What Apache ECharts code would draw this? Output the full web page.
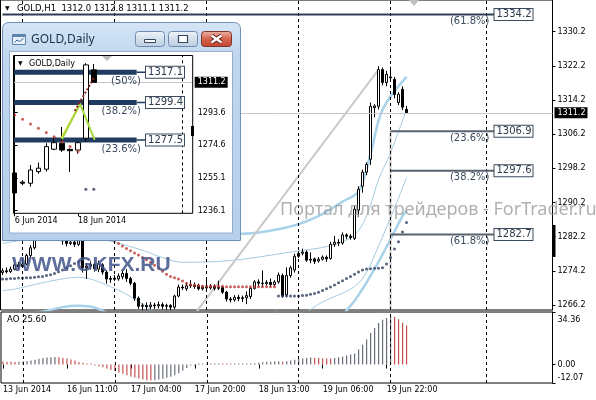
<!DOCTYPE html>
<html>
<head>
<meta charset="utf-8">
<title>GOLD,H1</title>
<script src="https://cdn.jsdelivr.net/npm/echarts@6.0.0/dist/echarts.min.js"></script>
<style>
  html, body { margin: 0; padding: 0; background: #fff; }
  #main { width: 596px; height: 400px; }
</style>
</head>
<body>
<div id="main"></div>
<script>
// ---- GOLD H1 bars (13 Jun 2014 19:00 .. 20 Jun 2014 03:00) ----
var h1Open = [1273.8,1274.2,1274.0,1274.6,1275.6,1275.2,1275.8,1277.8,1279.6,1282.6,
  1283.5,1284.6,1285.2,1284.8,1283.6,1282.4,1281.2,1280.6,1280.9,1280.4,
  1281.3,1274.9,1275.3,1275.7,1274.6,1275.6,1273.9,1272.4,1272.2,1272.3,
  1272.8,1273.6,1272.4,1271.3,1267.8,1265.9,1266.1,1265.8,1266.2,1266.0,
  1266.3,1265.9,1266.1,1265.7,1268.3,1270.4,1270.0,1270.7,1270.9,1270.8,
  1270.0,1270.4,1270.2,1270.6,1270.1,1270.3,1269.2,1267.6,1267.4,1268.0,
  1267.7,1267.9,1268.2,1270.1,1271.6,1271.3,1271.2,1271.5,1271.0,1271.6,
  1273.1,1268.6,1273.1,1274.4,1277.6,1278.3,1278.6,1276.7,1277.0,1276.5,
  1276.9,1277.4,1277.1,1280.4,1280.9,1280.7,1282.6,1282.3,1281.8,1288.4,
  1294.0,1297.3,1300.3,1312.4,1312.7,1321.3,1318.3,1319.6,1319.0,1313.6,
  1316.7,1312.0];
var h1Close = [1274.2,1274.0,1274.6,1275.6,1275.2,1275.8,1277.8,1279.6,1282.6,1283.5,
  1284.6,1285.2,1284.8,1283.6,1282.4,1281.2,1280.6,1280.9,1280.4,1281.3,
  1274.9,1275.3,1275.7,1274.7,1275.8,1273.9,1272.3,1272.2,1272.5,1273.0,
  1273.6,1272.4,1271.3,1267.8,1265.9,1266.1,1265.8,1266.2,1266.0,1266.3,
  1265.9,1266.1,1265.7,1268.3,1270.4,1270.2,1270.7,1270.9,1270.5,1270.0,
  1270.4,1270.2,1270.6,1270.1,1270.3,1269.2,1267.6,1267.4,1268.0,1267.7,
  1267.9,1268.4,1270.1,1271.6,1271.3,1271.2,1271.5,1271.0,1271.6,1273.2,
  1268.3,1273.1,1274.9,1277.6,1278.3,1278.6,1276.7,1276.9,1276.4,1276.9,
  1277.4,1277.0,1280.4,1280.9,1280.7,1282.6,1282.3,1282.0,1288.6,1293.3,
  1297.3,1299.1,1312.7,1312.8,1321.3,1318.3,1320.2,1319.4,1315.5,1315.5,
  1312.5,1311.2];
var h1Low = [1273.2,1273.6,1273.7,1274.3,1274.6,1274.9,1275.5,1277.4,1279.2,1282.0,
  1283.0,1284.0,1284.1,1283.1,1281.8,1280.3,1279.9,1280.2,1279.8,1280.0,
  1273.8,1272.3,1274.5,1274.0,1273.9,1273.3,1271.2,1271.4,1271.8,1271.9,
  1272.2,1271.6,1270.8,1267.2,1265.3,1265.0,1265.0,1265.2,1265.3,1265.4,
  1265.2,1265.1,1265.0,1265.2,1268.0,1269.7,1269.5,1270.2,1270.0,1269.6,
  1269.6,1269.8,1269.8,1269.6,1269.7,1268.8,1267.0,1266.8,1267.0,1267.1,
  1266.9,1266.4,1267.6,1269.8,1270.6,1270.4,1270.7,1270.5,1270.6,1271.2,
  1267.9,1268.2,1272.6,1273.8,1277.2,1277.8,1276.3,1276.0,1275.8,1276.1,
  1276.6,1276.3,1276.8,1279.8,1280.0,1280.3,1281.6,1281.5,1281.4,1286.8,
  1292.5,1296.6,1299.0,1310.1,1312.0,1317.6,1317.4,1318.6,1314.6,1313.0,
  1311.8,1311.1];
var h1High = [1274.8,1275.0,1275.2,1276.0,1276.3,1276.6,1278.2,1280.2,1283.4,1284.2,
  1285.3,1286.0,1285.9,1285.3,1284.0,1283.0,1281.8,1281.6,1281.5,1282.0,
  1281.8,1276.0,1276.4,1276.2,1276.6,1276.0,1274.2,1273.0,1273.2,1273.6,
  1274.3,1274.6,1272.8,1271.6,1268.2,1266.6,1266.8,1266.9,1266.7,1267.0,
  1266.8,1266.5,1266.4,1268.6,1271.0,1271.0,1271.4,1272.0,1271.5,1271.2,
  1270.9,1272.4,1271.1,1271.0,1271.9,1270.6,1269.5,1268.1,1268.5,1268.6,
  1268.4,1269.4,1270.5,1272.0,1272.2,1274.3,1272.0,1272.4,1272.0,1273.8,
  1273.6,1275.0,1275.4,1278.2,1278.8,1279.4,1279.0,1278.5,1277.3,1277.4,
  1277.8,1277.8,1281.0,1282.4,1281.6,1283.2,1283.0,1282.8,1289.5,1294.0,
  1297.9,1299.6,1313.6,1313.2,1322.1,1321.8,1321.0,1322.0,1319.6,1316.0,
  1317.4,1312.8];

// Awesome Oscillator, one value per H1 bar
var aoValues = [2.0,1.9,1.8,1.7,1.9,2.1,2.3,2.6,3.2,3.8,
  4.3,4.6,4.8,5.0,4.8,4.3,3.9,3.3,2.6,1.7,
  1.1,0.4,0.2,-0.3,-1.1,-1.7,-2.6,-3.5,-4.3,-5.2,
  -6.1,-7.0,-7.8,-8.5,-9.1,-9.8,-10.2,-10.4,-10.2,-9.8,
  -9.3,-8.7,-8.0,-7.0,-5.7,-3.9,-2.2,-0.7,-0.3,0.1,
  0.2,0.15,0.1,0.2,0.25,0.2,0.15,0.1,0.15,0.2,
  0.3,0.4,0.6,0.9,1.2,1.5,1.7,1.9,2.0,2.1,
  1.9,2.2,2.6,3.1,3.6,4.0,4.3,4.6,4.5,4.3,
  4.1,4.0,3.9,4.3,4.8,5.3,5.9,6.5,7.2,9.8,
  13.0,16.3,20.7,23.9,27.2,29.3,30.4,31.8,31.3,29.6,
  27.4,25.6];

// Parabolic SAR runs
var sarBelowA = [1272.3,1272.3,1272.4,1272.4,1272.5,1272.5,1272.6,1272.6,1272.7,1272.8,
  1272.9,1273.1,1273.3,1273.6,1274.0,1274.4,1274.9,1275.4,1275.9,1276.3,1276.8];          // bars 0..20
var sarAbove = [1285.4,1285.0,1284.5,1283.9,1283.2,1282.5,1281.8,
  1281.2,1280.6,1280.0,1279.4,1278.9,1278.4,1277.9,1277.3,1276.8,1276.2,1275.5,
  1274.8,1274.1,1273.4,1272.9,1272.6,1272.3,1271.8,1271.3,1271.0,1270.8,1270.7,
  1270.6,1270.6,1270.6,1270.6,1270.6,1270.6,
  1270.5,1270.5,1270.5,1270.5,1270.5,1270.5,1270.5,1270.5,1270.5,1270.5,1270.5,1270.5,1270.5]; // bars 21..68
var sarBelowB = [1268.3,1268.3,1268.3,1268.3,1268.3,1268.3,1268.4,1268.5,1268.7,1268.9,
  1269.2,1269.6,1270.0,1270.4,1270.9,1271.4,1271.9,1272.4,1272.9,1273.4,
  1273.9,1274.4,1274.6,1274.7,1274.8,1274.8,1274.9,1275.8,1277.3,1279.3,
  1281.0,1283.3,1285.5];                                                                   // bars 69..101
var sarAboveStart = 21, sarBelowBStart = 69;

// Band lines read at selected bars: [bar, price]
var bandUpperOuter = [[0,1281.4],[12,1282.8],[24,1283.6],[36,1283.8],[48,1283.2],[60,1282.9],
  [72,1284.6],[79,1287.0],[85,1290.4],[89,1292.8],[92,1301.5],[95,1311.9],[101,1319.6]];
var bandUpperInner = [[0,1280.6],[12,1282.0],[24,1281.6],[34,1279.3],[40,1277.3],[45,1276.2],
  [57,1276.6],[72,1278.6],[82,1280.1],[88,1282.6],[91,1287.0],[94,1295.5],[97,1301.8],[101,1312.0]];
var bandLowerInner = [[0,1269.6],[3,1269.9],[12,1271.8],[19,1272.7],[27,1270.5],[34,1267.1],
  [40,1263.5],[55,1259.0],[70,1261.5],[80,1266.9],[89,1271.3],[94,1280.0],[101,1296.0]];
var bandLowerOuter = [[0,1263.0],[10,1264.6],[15,1265.7],[19,1266.0],[23,1265.6],[28,1263.5],
  [45,1256.0],[70,1255.0],[82,1261.0],[87,1266.0],[89,1268.5],[93,1274.6],[97,1281.6],[100,1287.0],[101,1288.3]];
var trendLine = [[46,1261.5],[94,1321.3]];

// Fibonacci levels on H1
var fibLevels = [1334.2, 1306.9, 1297.6, 1282.7];
var fibNames = ['(61.8%)', '(23.6%)', '(38.2%)', '(61.8%)'];
var fibStartBar = [0, 97, 97, 97];
var fibEndBar = 123;
var fibAnchorBar = 97;

// Axis ticks
var h1YTicks = [1266.2, 1274.2, 1282.2, 1290.2, 1298.2, 1306.2, 1314.2, 1322.2, 1330.2];
var aoYTicks = [34.36, 0, -12.07];
var h1TickIdx = [0, 16, 32, 48, 64, 80, 96];
var h1TickLabels = ['13 Jun 2014', '16 Jun 11:00', '17 Jun 04:00', '17 Jun 20:00', '18 Jun 13:00', '19 Jun 06:00', '19 Jun 22:00'];
var gridBars = [5, 28, 51, 74, 97, 121];

// ---- GOLD Daily (inset window) ----
var dailyDates = ['6 Jun 2014','9 Jun 2014','10 Jun 2014','11 Jun 2014','12 Jun 2014','13 Jun 2014',
  '16 Jun 2014','17 Jun 2014','18 Jun 2014','19 Jun 2014','20 Jun 2014'];
var dOpen  = [1258.2,1252.8,1252.2,1259.0,1260.4,1272.1,1275.6,1272.0,1271.6,1278.5,1318.5];
var dClose = [1246.5,1252.2,1259.9,1261.0,1273.6,1275.9,1271.6,1271.2,1275.9,1321.4,1311.2];
var dLow   = [1244.0,1251.0,1250.2,1257.7,1259.0,1271.5,1270.5,1258.8,1269.4,1276.5,1311.1];
var dHigh  = [1259.0,1254.0,1262.9,1264.3,1275.6,1279.4,1285.1,1272.5,1276.5,1322.4,1322.0];
var dSarAbove = [1292.1,1289.6,1286.9,1284.3,1281.8,1279.4,1276.5,1273.6,1270.7]; // days 0..8
var dSarBelow = [1248.7,1248.7];                                                   // days 9..10
var dYTicks = [1236.1, 1255.1, 1274.6, 1293.6];
var dTickIdx = [0, 8];
var dFibLevels = [1317.1, 1299.4, 1277.5];
var dFibNames = ['(50%)', '(38.2%)', '(23.6%)'];
var dFibThickEnd = 15.42, dFibEnd = 16.6, dLeftEdge = -0.18, dGridBar = 21.24;
var dYellow = [[5.89,1278.5],[8.34,1299.0]];
var dGreen = [[5.98,1278.1],[8.26,1298.6],[10.11,1277.5]];
var dRedLine = [[7.6,1294.5],[10.1,1314.5]];

var FONT = 'DejaVu Sans';
var nSlots = 138, dSlots = 23;
var slots = [], dSlotArr = [];
for (var s = 0; s < nSlots; s++) slots.push(s);
for (var s2 = 0; s2 < dSlots; s2++) dSlotArr.push(s2);

var last = h1Open.length - 1;
var lastClose = h1Close[last];
var dLastClose = dClose[dClose.length - 1];
var candles = h1Open.map(function (o, i) { return [o, h1Close[i], h1Low[i], h1High[i]]; });
var dCandles = dOpen.map(function (o, i) { return [o, dClose[i], dLow[i], dHigh[i]]; });

function runPoints(values, start) {
  return values.map(function (v, k) { return [start + k, v]; });
}

function bandSeries(points, width) {
  return {
    type: 'line', xAxisIndex: 0, yAxisIndex: 0, data: points, smooth: 0.35,
    symbol: 'none', silent: true, z: 1,
    lineStyle: { color: width > 1.5 ? '#a7d2ea' : '#a3cbe0', width: width }
  };
}

var candleStyle = { color: '#fff', color0: '#000', borderColor: '#000', borderColor0: '#000', borderWidth: 1 };
var boxLabel = {
  show: true, position: 'right', distance: 0, fontFamily: FONT, fontSize: 10, color: '#2e3b4c',
  backgroundColor: '#fff', borderColor: '#3b4a5c', borderWidth: 1, padding: [1, 1, 0, 2]
};
var priceTag = { show: true, position: 'end', color: '#fff', backgroundColor: '#000',
  padding: [2, 2, 1, 3], fontFamily: FONT, fontSize: 8, distance: 2 };

function fibSeries(level, name, from, to, color, width, xAxisIndex, yAxisIndex, z, pctDy) {
  return {
    type: 'line', xAxisIndex: xAxisIndex, yAxisIndex: yAxisIndex, silent: true, z: z,
    symbol: 'circle', symbolSize: 0, showSymbol: true,
    lineStyle: { color: color, width: width },
    data: [
      [from, level],
      { value: [to, level], label: { show: true, position: 'left', distance: 5, offset: [0, pctDy],
          formatter: name, fontFamily: FONT, fontSize: 10, color: '#3b4a5c' } },
      { value: [to, level], label: Object.assign({ formatter: level.toFixed(1) }, boxLabel) }
    ]
  };
}

var series = [];
series.push(bandSeries(bandUpperOuter, 2.5));
series.push(bandSeries(bandLowerOuter, 2.5));
series.push(bandSeries(bandUpperInner, 1));
series.push(bandSeries(bandLowerInner, 1));
series.push({ type: 'line', xAxisIndex: 0, yAxisIndex: 0, data: trendLine, symbol: 'none', silent: true, z: 1,
  lineStyle: { color: '#c9c9c9', width: 2 } });
series.push({ type: 'line', xAxisIndex: 0, yAxisIndex: 0, data: [[fibAnchorBar, fibLevels[1]], [fibAnchorBar, 1265.03]],
  symbol: 'none', silent: true, z: 1, lineStyle: { color: '#c8c8c8', width: 2 } });
series.push({
  type: 'candlestick', xAxisIndex: 0, yAxisIndex: 0, data: candles, barWidth: 3, itemStyle: candleStyle, z: 3,
  markLine: {
    silent: true, symbol: 'none', animation: false,
    data: [{ yAxis: lastClose, lineStyle: { color: '#c6c6c6', width: 1, type: 'solid' },
      label: Object.assign({ formatter: lastClose.toFixed(1) }, priceTag) }]
      .concat(gridBars.map(function (b) {
        return { xAxis: b, lineStyle: { color: '#000', width: 1, type: [3, 3] }, label: { show: false } };
      }))
  }
});
series.push({ type: 'scatter', xAxisIndex: 0, yAxisIndex: 0, data: runPoints(sarAbove, sarAboveStart),
  symbol: 'circle', symbolSize: 3, itemStyle: { color: '#bd3a32' }, silent: true, z: 4 });
series.push({ type: 'scatter', xAxisIndex: 0, yAxisIndex: 0,
  data: runPoints(sarBelowA, 0).concat(runPoints(sarBelowB, sarBelowBStart)),
  symbol: 'circle', symbolSize: 3, itemStyle: { color: '#2d3d5e' }, silent: true, z: 4 });
fibLevels.forEach(function (lv, k) {
  series.push(fibSeries(lv, fibNames[k], fibStartBar[k], fibEndBar, k === 0 ? '#2f3e52' : '#59636f', 2, 0, 0, 5, 7));
});

// AO histogram
series.push({
  type: 'bar', xAxisIndex: 1, yAxisIndex: 1, data: aoValues, barWidth: 1, barMinHeight: 1, silent: true,
  itemStyle: { color: function (p) {
    var i = p.dataIndex;
    return (i > 0 && aoValues[i] > aoValues[i - 1]) ? '#4a5262' : '#b8302a';
  } },
  markLine: { silent: true, symbol: 'none', label: { show: false },
    lineStyle: { color: '#000', width: 1, type: [3, 3] },
    data: gridBars.map(function (b) { return { xAxis: b }; }) }
});

// Inset: daily chart
series.push({ type: 'candlestick', xAxisIndex: 2, yAxisIndex: 2, data: dCandles, barWidth: 5, itemStyle: candleStyle, z: 122 });
series.push({ type: 'scatter', xAxisIndex: 2, yAxisIndex: 2, data: runPoints(dSarAbove, 0),
  symbol: 'circle', symbolSize: 3, itemStyle: { color: '#bd3a32' }, silent: true, z: 123 });
series.push({ type: 'scatter', xAxisIndex: 2, yAxisIndex: 2, data: runPoints(dSarBelow, 9),
  symbol: 'circle', symbolSize: 3, itemStyle: { color: '#2d3d5e' }, silent: true, z: 123 });
series.push({ type: 'line', xAxisIndex: 3, yAxisIndex: 2, data: dYellow, symbol: 'none', silent: true, z: 124,
  lineStyle: { color: '#e4dc3a', width: 2 },
  markLine: { silent: true, symbol: 'none', animation: false, z: 121,
    data: [
      [{ coord: [dLeftEdge, dLastClose], lineStyle: { color: '#c6c6c6', width: 1, type: 'solid' },
         label: Object.assign({ formatter: dLastClose.toFixed(1) }, priceTag) },
       { coord: [22.5, dLastClose] }],
      [{ coord: [dGridBar, 1234.6], lineStyle: { color: '#000', width: 1, type: [3, 3] }, label: { show: false } },
       { coord: [dGridBar, 1326.9] }]
    ] }
});
series.push({ type: 'line', xAxisIndex: 3, yAxisIndex: 2, data: dGreen, symbol: 'none', silent: true, z: 124,
  lineStyle: { color: '#a4d83e', width: 2 } });
series.push({ type: 'line', xAxisIndex: 3, yAxisIndex: 2, data: dRedLine, symbol: 'none', silent: true, z: 124,
  lineStyle: { color: '#8e2222', width: 2, type: 'dotted' } });
dFibLevels.forEach(function (lv, k) {
  series.push({ type: 'line', xAxisIndex: 3, yAxisIndex: 2, data: [[dLeftEdge, lv], [dFibThickEnd, lv]],
    symbol: 'none', silent: true, z: 121, lineStyle: { color: '#1f3b5f', width: 5 } });
  series.push(fibSeries(lv, dFibNames[k], dFibThickEnd, dFibEnd, '#1f3b5f', 1.5, 3, 2, 125, 9));
});

var axisLabelBase = { fontFamily: FONT, fontSize: 8, color: '#000' };
var h1TickFn = function (i) { return h1TickIdx.indexOf(i) >= 0; };
var dTickFn = function (i) { return dTickIdx.indexOf(i) >= 0; };
var lastBar = [h1Open[last], h1High[last], h1Low[last], h1Close[last]];
var btnFill = { type: 'linear', x: 0, y: 0, x2: 0, y2: 1, colorStops: [
  { offset: 0, color: '#f1f5fa' }, { offset: 0.5, color: '#d3dfec' }, { offset: 1, color: '#bccde1' }] };

var graphics = [
  { type: 'text', z: 60, style: { text: '\u25BC', x: 5, y: 8, fontSize: 6, fontFamily: FONT, fill: '#000', textVerticalAlign: 'middle' } },
  { type: 'text', z: 60, style: { text: 'GOLD,H1  ' + lastBar.map(function (v) { return v.toFixed(1); }).join(' '),
    x: 17, y: 8.5, fontSize: 8.5, fontFamily: FONT, fill: '#000', textVerticalAlign: 'middle' } },
  { type: 'text', z: 60, style: { text: 'AO ' + aoValues[last].toFixed(2),
    x: 7, y: 320, fontSize: 8.5, fontFamily: FONT, fill: '#000', textVerticalAlign: 'middle' } },
  { type: 'polygon', z: 60, shape: { points: [[409, 0], [419, 0], [414, 6]] }, style: { fill: '#bdbdbd' } },
  { type: 'rect', z: 60, shape: { x: 552, y: 225, width: 3.5, height: 32 }, style: { fill: '#000' } },
  { type: 'text', z: 60, style: { text: 'WWW.GKFX.RU', x: 12, y: 265, fontSize: 21, fontWeight: 'bold', fontFamily: 'Liberation Sans',
    fill: 'rgba(66,84,138,0.85)', textVerticalAlign: 'middle' } },
  { type: 'text', z: 60, style: { text: 'Портал для трейдеров - ForTrader.ru', x: 280, y: 210,
    fontSize: 18, fontFamily: 'Noto Sans', fill: 'rgba(150,150,150,0.75)', textVerticalAlign: 'middle' } },
  // inset window frame
  { type: 'rect', z: 100, shape: { x: 2.5, y: 22.5, width: 238, height: 218, r: [6, 6, 0, 0] },
    style: { fill: { type: 'linear', x: 0, y: 0, x2: 0, y2: 1, colorStops: [
      { offset: 0, color: '#d5e5f6' }, { offset: 0.15, color: '#c1d7ef' }, { offset: 1, color: '#b6cfeb' }] },
      stroke: '#6f8fb6', lineWidth: 1 } },
  { type: 'rect', z: 101, shape: { x: 9.5, y: 51.5, width: 223, height: 181.5 }, style: { fill: '#fff', stroke: '#93afcf', lineWidth: 1 } },
  { type: 'rect', z: 101, shape: { x: 12.5, y: 34.5, width: 13, height: 10 }, style: { fill: '#e7f0f9', stroke: '#5f84ad', lineWidth: 1 } },
  { type: 'rect', z: 102, shape: { x: 12.5, y: 34.5, width: 13, height: 2.5 }, style: { fill: '#5f84ad' } },
  { type: 'polyline', z: 102, shape: { points: [[14.5, 42.5], [17, 40], [19.5, 41.5], [23.5, 38.5]] }, style: { stroke: '#3a6a9e', lineWidth: 1, fill: null } },
  { type: 'text', z: 102, style: { text: 'GOLD,Daily', x: 31, y: 39.5, fontSize: 12, fontFamily: 'Noto Sans', fill: '#1c2f4a', textVerticalAlign: 'middle' } },
  { type: 'rect', z: 101, shape: { x: 135.5, y: 31.5, width: 29, height: 15, r: 3 }, style: { fill: btnFill, stroke: '#6f8cae', lineWidth: 1 } },
  { type: 'rect', z: 102, shape: { x: 144.5, y: 39.5, width: 11, height: 3 }, style: { fill: '#fff', stroke: '#34475f', lineWidth: 1 } },
  { type: 'rect', z: 101, shape: { x: 168.5, y: 31.5, width: 29, height: 15, r: 3 }, style: { fill: btnFill, stroke: '#6f8cae', lineWidth: 1 } },
  { type: 'rect', z: 102, shape: { x: 178.5, y: 35.5, width: 9, height: 7 }, style: { fill: '#fff', stroke: '#34475f', lineWidth: 1.2 } },
  { type: 'rect', z: 101, shape: { x: 201.5, y: 31.5, width: 30, height: 15, r: 3 },
    style: { fill: { type: 'linear', x: 0, y: 0, x2: 0, y2: 1, colorStops: [{ offset: 0, color: '#eeb3a6' }, { offset: 0.5, color: '#d4654f' }, { offset: 1, color: '#c2432f' }] }, stroke: '#7d3429', lineWidth: 1 } },
  { type: 'polyline', z: 102, shape: { points: [[211.5, 35.5], [221.5, 42.5]] }, style: { stroke: '#5a1d14', lineWidth: 4 } },
  { type: 'polyline', z: 102, shape: { points: [[221.5, 35.5], [211.5, 42.5]] }, style: { stroke: '#5a1d14', lineWidth: 4 } },
  { type: 'polyline', z: 103, shape: { points: [[211.5, 35.5], [221.5, 42.5]] }, style: { stroke: '#fff', lineWidth: 2.4 } },
  { type: 'polyline', z: 103, shape: { points: [[221.5, 35.5], [211.5, 42.5]] }, style: { stroke: '#fff', lineWidth: 2.4 } },
  // inset chart border and captions
  { type: 'rect', z: 126, shape: { x: 13.5, y: 55.5, width: 179.2, height: 157.8 }, style: { fill: null, stroke: '#000', lineWidth: 1 } },
  { type: 'polygon', z: 126, shape: { points: [[102, 56], [112, 56], [107, 61]] }, style: { fill: '#bdbdbd' } },
  { type: 'rect', z: 126, shape: { x: 191, y: 126, width: 3, height: 10 }, style: { fill: '#000' } },
  { type: 'text', z: 126, style: { text: '\u25BC', x: 18, y: 63.5, fontSize: 6, fontFamily: FONT, fill: '#000', textVerticalAlign: 'middle' } },
  { type: 'text', z: 126, style: { text: 'GOLD,Daily', x: 29, y: 64, fontSize: 8, fontFamily: FONT, fill: '#000', textVerticalAlign: 'middle' } }
];

var option = {
  animation: false,
  backgroundColor: '#fff',
  textStyle: { fontFamily: FONT },
  grid: [
    { left: 0.5, top: 0, width: 552, height: 310, show: true, borderColor: '#000', borderWidth: 1 },
    { left: 0.5, top: 312, width: 552, height: 71, show: true, borderColor: '#000', borderWidth: 1 },
    { left: 10.7, top: 55.5, width: 182, height: 157.8, show: false }
  ],
  xAxis: [
    { type: 'category', gridIndex: 0, data: slots, boundaryGap: true, show: false },
    { type: 'category', gridIndex: 1, data: slots, boundaryGap: true,
      axisLine: { show: false },
      axisTick: { show: true, interval: h1TickFn, alignWithLabel: true, length: 4, lineStyle: { color: '#000' } },
      axisLabel: Object.assign({ interval: h1TickFn, align: 'left', margin: 3,
        formatter: function (v, i) { return h1TickLabels[h1TickIdx.indexOf(i)] || ''; } }, axisLabelBase),
      splitLine: { show: false } },
    { type: 'category', gridIndex: 2, data: dSlotArr, boundaryGap: true, z: 120,
      axisLine: { show: false },
      axisTick: { show: true, interval: dTickFn, alignWithLabel: true, length: 3, lineStyle: { color: '#000' } },
      axisLabel: Object.assign({ interval: dTickFn, align: 'left', margin: 4,
        formatter: function (v, i) { return dailyDates[i] || ''; } }, axisLabelBase),
      splitLine: { show: false } },
    { type: 'value', gridIndex: 2, min: -0.5, max: 22.5, show: false }
  ],
  yAxis: [
    { type: 'value', gridIndex: 0, position: 'right', min: 1265.03, max: 1337.6,
      axisLine: { show: true, lineStyle: { color: '#000' } },
      axisTick: { show: true, customValues: h1YTicks, length: 3, lineStyle: { color: '#000' } },
      axisLabel: Object.assign({ customValues: h1YTicks, margin: 5, formatter: function (v) { return v.toFixed(1); } }, axisLabelBase),
      splitLine: { show: false } },
    { type: 'value', gridIndex: 1, position: 'right', min: -12.07, max: 34.36,
      axisLine: { show: true, lineStyle: { color: '#000' } },
      axisTick: { show: true, customValues: aoYTicks, length: 3, lineStyle: { color: '#000' } },
      axisLabel: Object.assign({ customValues: aoYTicks, margin: 5,
        formatter: function (v) {
          if (v === aoYTicks[0]) return '{t|' + v.toFixed(2) + '}';
          if (v === aoYTicks[2]) return '{b|' + v.toFixed(2) + '}';
          return v.toFixed(2);
        },
        rich: { t: { padding: [16, 0, 0, 0], fontSize: 8, fontFamily: FONT }, b: { padding: [0, 0, 11, 0], fontSize: 8, fontFamily: FONT } }
      }, axisLabelBase),
      splitLine: { show: false } },
    { type: 'value', gridIndex: 2, position: 'right', min: 1234.6, max: 1326.9, z: 120,
      axisLine: { show: true, lineStyle: { color: '#000' } },
      axisTick: { show: true, customValues: dYTicks, length: 3, lineStyle: { color: '#000' } },
      axisLabel: Object.assign({ customValues: dYTicks, margin: 5, formatter: function (v) { return v.toFixed(1); } }, axisLabelBase),
      splitLine: { show: false } }
  ],
  graphic: graphics,
  series: series
};

var chart = echarts.init(document.getElementById('main'));
chart.setOption(option);
</script>
</body>
</html>
